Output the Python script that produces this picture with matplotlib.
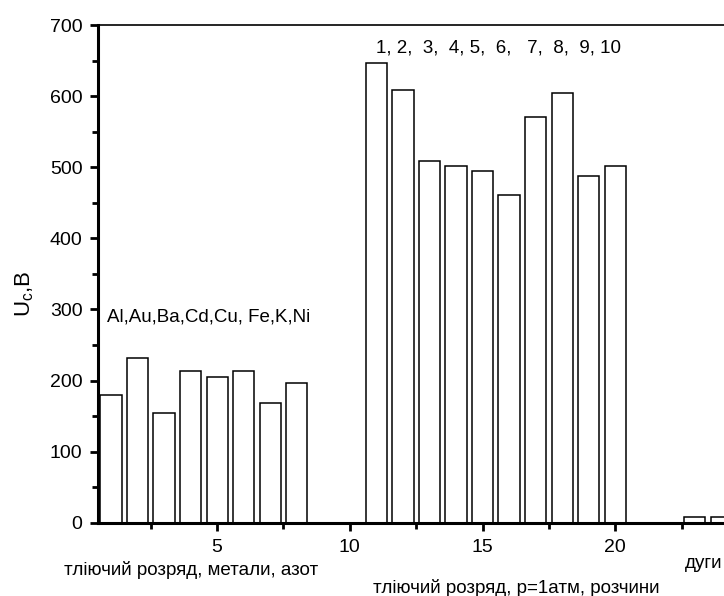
import matplotlib.pyplot as plt
import numpy as np
from matplotlib.ticker import MultipleLocator

# ============================================================
# Data
# ============================================================

metal_x = [1, 2, 3, 4, 5, 6, 7, 8]
metal_u = [179, 231, 154, 213, 205, 213, 169, 196]

solution_x = [11, 12, 13, 14, 15, 16, 17, 18, 19, 20]
solution_u = [646, 608, 509, 502, 494, 461, 570, 605, 488, 502]

arc_x = [23, 24]
arc_u = [8, 8]

metal_names = "Al,Au,Ba,Cd,Cu, Fe,K,Ni"
solution_names = "1, 2,  3,  4, 5,  6,   7,  8,  9, 10"

# ============================================================
# Plot
# ============================================================

plt.rcParams['font.family'] = ['Liberation Sans', 'DejaVu Sans']

fig = plt.figure(figsize=(7.24, 5.96), dpi=100)
ax = fig.add_axes([0.135, 0.123, 0.865, 0.835])

bar_style = dict(width=0.8, color='white', edgecolor='black', linewidth=1.1)
ax.bar(metal_x, metal_u, **bar_style)
ax.bar(solution_x, solution_u, **bar_style)
ax.bar(arc_x, arc_u, **bar_style)

ax.set_xlim(0.5, 24.1)
ax.set_ylim(0, 700)

ax.xaxis.set_major_locator(MultipleLocator(5))
ax.xaxis.set_minor_locator(MultipleLocator(2.5))
ax.yaxis.set_major_locator(MultipleLocator(100))
ax.yaxis.set_minor_locator(MultipleLocator(50))

ax.tick_params(which='major', direction='out', length=6, width=2, labelsize=14)
ax.tick_params(axis='x', which='major', pad=6)
ax.tick_params(axis='y', which='major', pad=5)
ax.tick_params(which='minor', direction='out', length=4, width=2)
ax.tick_params(top=False, right=False)

ax.spines['left'].set_linewidth(2.2)
ax.spines['bottom'].set_linewidth(2.2)
ax.spines['top'].set_linewidth(1.2)
ax.spines['right'].set_visible(False)

ax.set_ylabel(r'U$_\mathregular{c}$,B', fontsize=16)
ax.yaxis.set_label_coords(-0.099, 0.46)

# group labels
ax.text(11.0, 667, solution_names, fontsize=13.5, va='center', ha='left')
ax.text(0.85, 289, metal_names, fontsize=13.5, va='center', ha='left')

# x-axis captions
fig.text(0.264, 0.044, "тліючий розряд, метали, азот", fontsize=13.5,
         ha='center', va='center')
fig.text(0.713, 0.013, "тліючий розряд, p=1атм, розчини", fontsize=13.5,
         ha='center', va='center')
fig.text(0.946, 0.055, "дуги", fontsize=13.5, ha='left', va='center')

plt.savefig("out.png", dpi=100)
